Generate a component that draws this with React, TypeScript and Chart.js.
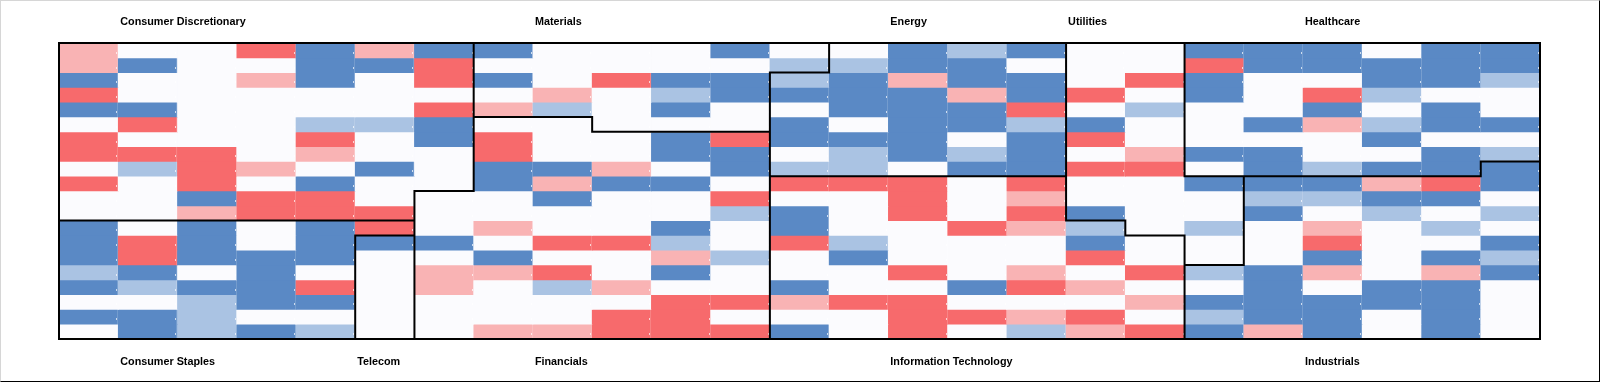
import React, { useEffect, useRef } from "react";
import { Chart, registerables } from "chart.js";

Chart.register(...registerables);

// 25 columns x 20 rows of cells; each letter is a change bucket
// R = strong fall, r = mild fall, W = flat, b = mild rise, B = strong rise
const columnIds: string[] = [
  "0", "1", "2", "3", "4", "5", "6", "7", "8", "9", "10", "11", "12",
  "13", "14", "15", "16", "17", "18", "19", "20", "21", "22", "23", "24",
];

const cellLevels: string[] = [
  "rWWRBrBBWWWBWWBbBWWBBBWBB",
  "rBWWBBRWWWWWbbBBWWWRBBBBB",
  "BWWrBWRBWRBBbBrBBWRBWWBBb",
  "RWWWWWWWrWbBBBBrBRWBWRbWW",
  "BBWWWWRrbWBWWBBBRWbWWBWBW",
  "WRWWbbBWWWWWBWBBbBWWBrbBB",
  "RWWWRWBRWWBRBBBWBRWWWWBWW",
  "RRRWrWWRWWBBWbBbBWrBBWWBb",
  "WbRrWBWBBrWBbbWBBRRWBbBBB",
  "RWRWBWWBrBBWRRRWRWWBBBrRB",
  "WWBRRWWWBWWRWWRWrWWWbbBBW",
  "WWrRRRWWWWWbBWRWRBWWBWbWb",
  "BWBWBRWrWWBWBWWRrbWbWrWbW",
  "BRBWBBBWRRbWRbWWWBWWWRWWB",
  "BRBBBWWBWWrbWBWWWRWWWBWBb",
  "bBWBWWrrRWBWWWRWrWRbBrWrB",
  "BbBBRWrWbrWWBWWBRrWWBWBBW",
  "WWbBBWWWWWRRrRRWWWrBBBBBW",
  "BBbWWWWWWRRWWWRRrRWbBBWBW",
  "WBbBbWWrrRRRBWRWbrRBrBWBW",
];

// sector index of every cell (same grid as above)
const sectorGrid: string[] = [
  "0000000333333555577888888",
  "0000000333333555577888888",
  "0000000333335555577888888",
  "0000000333335555577888888",
  "0000000333335555577888888",
  "0000000443335555577888888",
  "0000000444445555577888888",
  "0000000444445555577888888",
  "0000000444445555577888889",
  "0000000444446666677799999",
  "0000004444446666677799999",
  "0000004444446666677799999",
  "1111114444446666667799999",
  "1111124444446666666799999",
  "1111124444446666666799999",
  "1111124444446666666999999",
  "1111124444446666666999999",
  "1111124444446666666999999",
  "1111124444446666666999999",
  "1111124444446666666999999",
];

const sectorNames: string[] = [
  "Consumer Discretionary",
  "Consumer Staples",
  "Telecom",
  "Materials",
  "Financials",
  "Energy",
  "Information Technology",
  "Utilities",
  "Healthcare",
  "Industrials",
];
const sectorLabelColumn: number[] = [1, 1, 5, 8, 8, 14, 14, 17, 21, 21];
const sectorLabelSide: string[] = [
  "top", "bottom", "bottom", "top", "bottom", "top", "bottom", "top", "top", "bottom",
];

const palette: Record<string, string> = {
  R: "#f76a6c",
  r: "#f9b3b4",
  W: "#fbfbfe",
  b: "#aac3e3",
  B: "#5a89c5",
};

const sectorPlugin = {
  id: "sectorBorders",
  afterDatasetsDraw(chart: any) {
    const { ctx, scales, chartArea } = chart;
    const xs = scales.x;
    const ys = scales.y;
    const half = (xs.getPixelForValue(1) - xs.getPixelForValue(0)) / 2;
    const colLeft = (c: number) => xs.getPixelForValue(c) - half;
    const rowTop = (r: number) => ys.getPixelForValue(r);
    const nRows = sectorGrid.length;
    const nCols = columnIds.length;
    ctx.save();

    // very faint column separators and small marks at cell edges
    ctx.lineWidth = 1;
    ctx.strokeStyle = "rgba(255,255,255,0.16)";
    ctx.beginPath();
    for (let c = 1; c < nCols; c++) {
      const x = Math.round(colLeft(c)) - 0.5;
      ctx.moveTo(x, chartArea.top);
      ctx.lineTo(x, chartArea.bottom);
    }
    ctx.stroke();
    ctx.fillStyle = "rgba(255,255,255,0.7)";
    for (let r = 0; r < nRows; r++) {
      for (let c = 1; c <= nCols; c++) {
        const x = Math.round(colLeft(c)) - 2;
        const y = Math.round(rowTop(r + 1)) - 6;
        ctx.fillRect(x, y, 1, 2);
      }
    }

    // sector outlines
    ctx.strokeStyle = "#000";
    ctx.lineWidth = 2;
    ctx.lineCap = "square";
    ctx.beginPath();
    for (let r = 0; r < nRows; r++) {
      for (let c = 0; c < nCols; c++) {
        const s = sectorGrid[r][c];
        if (c < nCols - 1 && sectorGrid[r][c + 1] !== s) {
          ctx.moveTo(colLeft(c + 1), rowTop(r));
          ctx.lineTo(colLeft(c + 1), rowTop(r + 1));
        }
        if (r < nRows - 1 && sectorGrid[r + 1][c] !== s) {
          ctx.moveTo(colLeft(c), rowTop(r + 1));
          ctx.lineTo(colLeft(c + 1), rowTop(r + 1));
        }
      }
    }
    ctx.stroke();
    ctx.strokeRect(
      chartArea.left,
      chartArea.top,
      chartArea.right - chartArea.left,
      chartArea.bottom - chartArea.top
    );

    // sector names
    ctx.fillStyle = "#000";
    ctx.font = "bold 10.8px 'Liberation Sans', Arial, sans-serif";
    ctx.textAlign = "left";
    ctx.textBaseline = "middle";
    sectorNames.forEach((name, i) => {
      const x = colLeft(sectorLabelColumn[i]) + 2;
      const y = sectorLabelSide[i] === "top" ? chartArea.top - 21 : chartArea.bottom + 23;
      ctx.fillText(name, x, y);
    });
    ctx.restore();
  },
};

export default function App() {
  const canvasRef = useRef<HTMLCanvasElement | null>(null);

  useEffect(() => {
    document.body.style.margin = "0";
    const canvas = canvasRef.current;
    if (!canvas) return;
    const datasets = cellLevels.map((row, r) => ({
      label: `row ${r}`,
      data: columnIds.map(() => 1),
      backgroundColor: row.split("").map((ch) => palette[ch]),
      borderWidth: 0,
      categoryPercentage: 1,
      barPercentage: 1,
      stack: "cells",
    }));
    const chart = new Chart(canvas, {
      type: "bar",
      data: { labels: columnIds, datasets },
      options: {
        animation: false,
        responsive: false,
        devicePixelRatio: 1,
        layout: { padding: { left: 59, right: 60, top: 43, bottom: 43 } },
        plugins: { legend: { display: false }, tooltip: { enabled: false } },
        scales: {
          x: { display: false, stacked: true },
          y: { display: false, stacked: true, min: 0, max: cellLevels.length, reverse: true },
        },
      },
      plugins: [sectorPlugin],
    });
    return () => chart.destroy();
  }, []);

  return (
    <div style={{ position: "relative", width: 1600, height: 382, background: "#fff" }}>
      <canvas ref={canvasRef} width={1600} height={382} style={{ display: "block" }} />
      <div
        style={{
          position: "absolute",
          inset: 0,
          borderTop: "1px solid #d6d6d6",
          borderLeft: "1px solid #d6d6d6",
          borderRight: "1px solid #000",
          borderBottom: "1px solid #000",
          pointerEvents: "none",
        }}
      />
    </div>
  );
}
